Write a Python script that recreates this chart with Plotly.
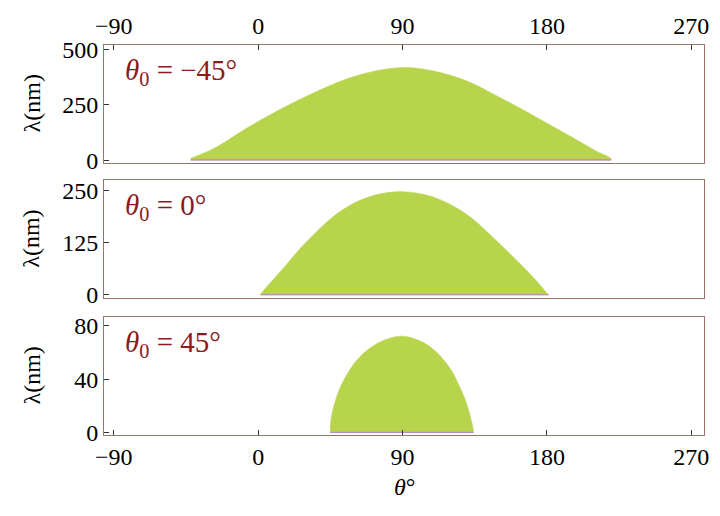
import plotly.graph_objects as go

# ---- data ----
theta_m45 = [-42, -41.6, -40.4, -26.1, -5.7, 14.7, 35.1, 55.5, 75.9, 92, 108.6, 129, 149.4, 169.8, 190.2, 210.6, 219.8, 220]
lam_m45 = [0, 10, 13, 59, 151, 233, 306, 368, 407, 419, 404, 361, 288, 209, 126, 42, 8, 0]

theta_0 = [1.4, 2, 16.7, 27, 37.2, 47.4, 57.6, 68, 78, 90.2, 108.6, 129, 149.4, 169.8, 181]
lam_0 = [0, 4, 69, 115, 155, 190, 216, 234, 244, 248, 236, 196, 127, 49, 0]

theta_p45 = [45, 45.2, 47.4, 51.4, 55.5, 59.6, 65.7, 75.9, 89.2, 100.4, 110.6, 120.8, 124.9, 129, 132, 134, 134.2]
lam_p45 = [0, 8, 21, 34.5, 44, 51.5, 59.5, 68, 72.3, 69, 61, 46, 36, 25, 13, 3, 0]

panels = [
    (theta_m45, lam_m45, [-13, 522], [0, 250, 500]),
    (theta_0, lam_0, [-7, 275], [0, 125, 250]),
    (theta_p45, lam_p45, [-1.5, 86.5], [0, 40, 80]),
]
panel_texts = ["−45°", "0°", "45°"]
x_ticks = [-90, 0, 90, 180, 270]

# ---- layout geometry ----
W, H = 720, 516
x_dom = [97 / W, 709 / W]
y_px = [(38, 161), (179, 301), (321, 443)]
green = "#B8D44C"
frame = "#9A7468"
serif = "Liberation Serif, Times New Roman, serif"
dark_red = "#8B1A1A"
nb = "\u00a0"

fig = go.Figure()
layout = dict(width=W, height=H, margin=dict(l=0, r=0, t=0, b=0),
              paper_bgcolor="white", plot_bgcolor="white", showlegend=False)
annotations = []

for i, (th, lam, yr, yt) in enumerate(panels):
    xa = "x" if i == 0 else f"x{i+1}"
    ya = "y" if i == 0 else f"y{i+1}"
    xkey = "xaxis" if i == 0 else f"xaxis{i+1}"
    ykey = "yaxis" if i == 0 else f"yaxis{i+1}"
    top, bot = y_px[i]
    fig.add_trace(go.Scatter(x=th, y=lam, mode="lines", fill="tozeroy",
                             fillcolor=green, line=dict(color=green, width=0.5, shape="spline", smoothing=1.0),
                             xaxis=xa, yaxis=ya, hoverinfo="skip"))
    # thin near-zero curves
    span = [th[0], th[-1]]
    small = yr[1] * 0.004
    fig.add_trace(go.Scatter(x=span, y=[small, small], mode="lines",
                             line=dict(color="#F0904A", width=1), xaxis=xa, yaxis=ya, hoverinfo="skip"))
    fig.add_trace(go.Scatter(x=span, y=[small * 0.3, small * 0.3], mode="lines",
                             line=dict(color="#B58AD8", width=1), xaxis=xa, yaxis=ya, hoverinfo="skip"))

    show_x = i in (0, 2)
    layout[xkey] = dict(domain=x_dom, range=[-96, 278], anchor=ya,
                        tickvals=x_ticks if show_x else [],
                        side="top" if i == 0 else "bottom",
                        ticks="inside" if show_x else "", ticklen=5, tickcolor="#333",
                        showticklabels=show_x,
                        tickfont=dict(family=serif, size=24, color="black"),
                        showline=True, linecolor=frame, linewidth=1.2, mirror=True,
                        showgrid=False, zeroline=False)
    layout[ykey] = dict(domain=[1 - bot / H, 1 - top / H], range=yr, anchor=xa,
                        tickvals=yt, ticks="inside", ticklen=5, tickcolor="#333",
                        tickfont=dict(family=serif, size=24, color="black"),
                        showline=True, linecolor=frame, linewidth=1.2, mirror=True,
                        showgrid=False, zeroline=False)
    # panel label
    annotations.append(dict(xref="paper", yref="paper", x=116 / W, y=1 - (top + 28) / H,
                            xanchor="left", yanchor="middle", showarrow=False,
                            text=f"<i>θ</i><sub>0</sub>{nb}={nb}{panel_texts[i]}",
                            font=dict(family=serif, size=29, color=dark_red)))
    # y-axis title
    annotations.append(dict(xref="paper", yref="paper", x=23 / W, y=1 - (top + bot) / 2 / H,
                            xanchor="center", yanchor="middle", showarrow=False, textangle=-90,
                            text="λ(nm)", font=dict(family=serif, size=24, color="black")))

annotations.append(dict(xref="paper", yref="paper", x=403 / W, y=1 - 497 / H,
                        xanchor="center", yanchor="middle", showarrow=False,
                        text="<i>θ</i>°", font=dict(family=serif, size=24, color="black")))
layout["annotations"] = annotations
fig.update_layout(**layout)
fig.write_html("out.html", config={"displayModeBar": False},
               post_script="document.body.style.margin='0';document.body.style.overflow='hidden';")
